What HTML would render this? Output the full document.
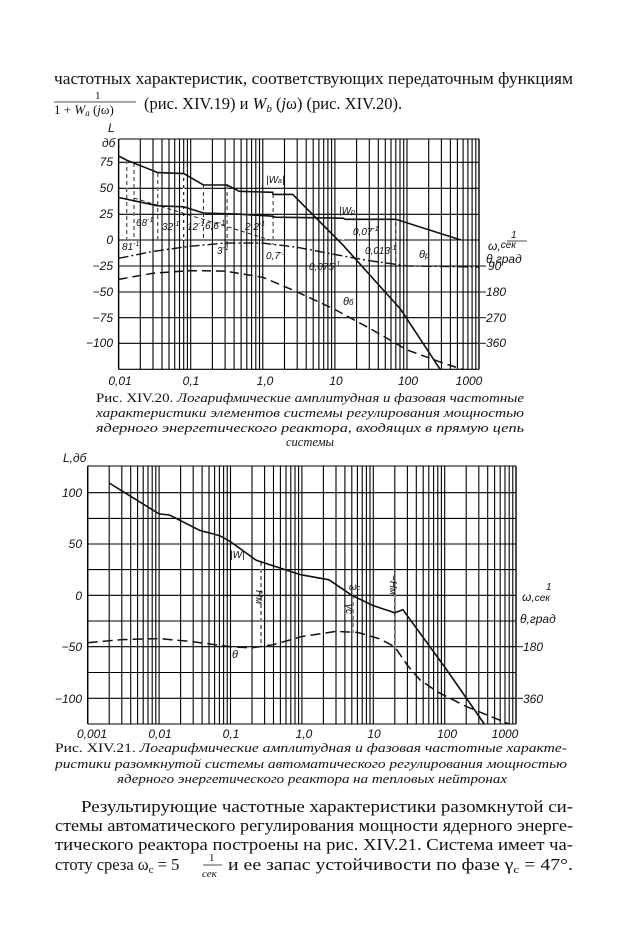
<!DOCTYPE html>
<html><head><meta charset="utf-8"><style>
html,body{margin:0;padding:0;background:#fff;width:620px;height:950px;overflow:hidden}
svg{display:block}
.t{font-family:"Liberation Serif","DejaVu Serif",serif;fill:#111}
.a{font-family:"Liberation Sans","DejaVu Sans",sans-serif;font-style:italic;fill:#111}
</style></head><body>
<svg width="620" height="950" viewBox="0 0 620 950" xmlns="http://www.w3.org/2000/svg">
<defs>
<g id="d1" stroke="#000" stroke-width="1.1">
<line x1="0" y1="139" x2="0" y2="369"/><line x1="21.7" y1="139" x2="21.7" y2="369"/><line x1="34.4" y1="139" x2="34.4" y2="369"/><line x1="43.4" y1="139" x2="43.4" y2="369"/><line x1="50.4" y1="139" x2="50.4" y2="369"/><line x1="56.1" y1="139" x2="56.1" y2="369"/><line x1="60.9" y1="139" x2="60.9" y2="369"/><line x1="65.1" y1="139" x2="65.1" y2="369"/><line x1="68.8" y1="139" x2="68.8" y2="369"/>
</g>
<g id="d2" stroke="#000" stroke-width="1.1">
<line x1="0" y1="466" x2="0" y2="724"/><line x1="21.5" y1="466" x2="21.5" y2="724"/><line x1="34.1" y1="466" x2="34.1" y2="724"/><line x1="43" y1="466" x2="43" y2="724"/><line x1="49.9" y1="466" x2="49.9" y2="724"/><line x1="55.5" y1="466" x2="55.5" y2="724"/><line x1="60.3" y1="466" x2="60.3" y2="724"/><line x1="64.5" y1="466" x2="64.5" y2="724"/><line x1="68.1" y1="466" x2="68.1" y2="724"/>
</g>
</defs>

<text class="t" x="54" y="84" font-size="16.5" textLength="519" lengthAdjust="spacingAndGlyphs">частотных характеристик, соответствующих передаточным функциям</text>
<text class="t" x="95" y="99" font-size="11">1</text>
<line x1="54" y1="102" x2="136" y2="102" stroke="#111" stroke-width="0.8"/>
<text class="t" x="54" y="114" font-size="13">1 + <tspan font-style="italic">W</tspan><tspan font-style="italic" font-size="9" dy="2">a</tspan><tspan dy="-2"> (</tspan><tspan font-style="italic">j</tspan>ω)</text>
<text class="t" x="144" y="109" font-size="16.5">(рис. XIV.19) и <tspan font-style="italic">W</tspan><tspan font-style="italic" font-size="11" dy="3">b</tspan><tspan dy="-3"> (</tspan><tspan font-style="italic">j</tspan>ω) (рис. XIV.20).</text>

<g stroke="#000" stroke-width="1.1">
<line x1="118.6" y1="139" x2="479" y2="139"/>
<line x1="118.6" y1="162.3" x2="479" y2="162.3"/>
<line x1="118.6" y1="188.3" x2="479" y2="188.3"/>
<line x1="118.6" y1="214.3" x2="479" y2="214.3"/>
<line x1="118.6" y1="240" x2="479" y2="240"/>
<line x1="118.6" y1="266" x2="479" y2="266"/>
<line x1="118.6" y1="292" x2="479" y2="292"/>
<line x1="118.6" y1="317.7" x2="479" y2="317.7"/>
<line x1="118.6" y1="343.3" x2="479" y2="343.3"/>
<line x1="118.6" y1="369.3" x2="479" y2="369.3"/>
</g>
<use href="#d1" x="118.6"/><use href="#d1" x="190.7"/><use href="#d1" x="262.8"/><use href="#d1" x="334.9"/><use href="#d1" x="407"/>
<line x1="479" y1="139" x2="479" y2="369.3" stroke="#000" stroke-width="1.4"/>
<line x1="118.6" y1="139" x2="118.6" y2="369.3" stroke="#000" stroke-width="1.4"/>
<g stroke="#fff" stroke-width="1.6" stroke-dasharray="4,3">
<line x1="126.8" y1="160" x2="126.8" y2="240"/><line x1="134" y1="163" x2="134" y2="240"/><line x1="157.8" y1="173" x2="157.8" y2="240"/><line x1="183.7" y1="174" x2="183.7" y2="240"/><line x1="203.4" y1="185" x2="203.4" y2="240"/><line x1="227.1" y1="185" x2="227.1" y2="245"/><line x1="239.2" y1="191" x2="239.2" y2="240"/><line x1="273.1" y1="194" x2="273.1" y2="245"/><line x1="343" y1="218" x2="343" y2="240"/><line x1="395.8" y1="219" x2="395.8" y2="266"/>
</g>
<g stroke="#111" stroke-width="0.9" stroke-dasharray="4,3">
<line x1="126.8" y1="160" x2="126.8" y2="240"/><line x1="134" y1="163" x2="134" y2="240"/><line x1="157.8" y1="173" x2="157.8" y2="240"/><line x1="203.4" y1="185" x2="203.4" y2="240"/><line x1="227.1" y1="185" x2="227.1" y2="245"/><line x1="273.1" y1="194" x2="273.1" y2="245"/><line x1="395.8" y1="219" x2="395.8" y2="266"/>
<line x1="134" y1="198" x2="270" y2="240"/>
</g>
<g fill="none" stroke="#111" stroke-width="1.6">
<polyline points="118.6,156 126.8,160.2 157.8,172.6 183.7,173.6 203.4,185 227.1,185 239.2,191.3 272.7,192.3 273.1,194.4 292.7,194.4 343.1,245.2 400.8,309.5 440.3,369.6"/>
<polyline points="118.6,197.5 157.8,205.8 183.7,206.8 203.4,213 237.8,214.1 271,216.1 275.5,217.2 343.1,218.2 345.4,219.3 395.8,219.3 460.9,240"/>
<polyline stroke-dasharray="10,3,2,3" stroke-width="1.4" points="118.6,258.3 153,251.4 190.7,246.2 225.1,243.1 262.8,243.1 297.2,247.3 334.9,254.5 369.3,260.7 407,265.9 479,267"/>
<polyline stroke-dasharray="9,5" stroke-width="1.5" points="118.6,279.4 153,273.2 190.7,270.6 225.1,271.1 262.8,277.3 297.2,291.9 334.9,309.5 369.3,328.1 407,349.9 441.4,362.4 463.1,369.6"/>
</g>
<g class="a" font-size="12" text-anchor="end">
<text x="113" y="166">75</text><text x="113" y="192">50</text><text x="113" y="218">25</text><text x="113" y="244">0</text>
<text x="113" y="270">−25</text><text x="113" y="296">−50</text><text x="113" y="322">−75</text><text x="113" y="347">−100</text>
</g>
<text class="a" x="108" y="132" font-size="12">L</text>
<text class="a" x="102" y="147" font-size="12">дб</text>
<g class="a" font-size="12" text-anchor="middle">
<text x="120" y="385">0,01</text><text x="191" y="385">0,1</text><text x="265" y="385">1,0</text><text x="336" y="385">10</text><text x="408" y="385">100</text><text x="469" y="385">1000</text>
</g>
<g stroke="#111" stroke-width="1"><line x1="480" y1="266" x2="486" y2="266"/><line x1="480" y1="292" x2="486" y2="292"/><line x1="480" y1="317.7" x2="486" y2="317.7"/><line x1="480" y1="343.3" x2="486" y2="343.3"/></g>
<g class="a" font-size="12"><text x="488" y="270">90</text><text x="486" y="296">180</text><text x="486" y="322">270</text><text x="486" y="347">360</text></g>
<text class="a" x="488" y="250" font-size="12">ω,<tspan font-size="10" dy="-2">сек</tspan></text>
<text class="a" x="511" y="238" font-size="10">1</text>
<line x1="507" y1="241" x2="527" y2="241" stroke="#111" stroke-width="0.8"/>
<text class="a" x="486" y="263" font-size="12">θ,град</text>
<g class="a" font-size="10">
<text x="266" y="183">|W<tspan font-size="7">a</tspan>|</text>
<text x="339" y="214">|W<tspan font-size="7">p</tspan>|</text>
<text x="419" y="258" font-size="11">θ<tspan font-size="8">p</tspan></text>
<text x="343" y="305" font-size="11">θ<tspan font-size="8">б</tspan></text>
<text x="122" y="250">81<tspan font-size="7" dy="-4">-1</tspan></text>
<text x="136" y="226">68<tspan font-size="7" dy="-4">-1</tspan></text>
<text x="162" y="230">32<tspan font-size="7" dy="-4">-1</tspan></text>
<text x="187" y="230">12<tspan font-size="7" dy="-4">-1</tspan></text>
<text x="205" y="229">6,6<tspan font-size="7" dy="-4">-1</tspan></text>
<text x="245" y="230">2,2<tspan font-size="7" dy="-4">-1</tspan></text>
<text x="217" y="254">3<tspan font-size="7" dy="-4">-1</tspan></text>
<text x="266" y="259">0,7<tspan font-size="7" dy="-4">-1</tspan></text>
<text x="353" y="235">0,07<tspan font-size="7" dy="-4">-1</tspan></text>
<text x="365" y="254">0,013<tspan font-size="7" dy="-4">-1</tspan></text>
<text x="309" y="270">0,075<tspan font-size="7" dy="-4">-1</tspan></text>
</g>
<g class="t" font-size="12.5">
<text x="96" y="402" textLength="428" lengthAdjust="spacingAndGlyphs">Рис. XIV.20. <tspan font-style="italic">Логарифмические амплитудная и фазовая частотные</tspan></text>
<text x="96" y="417" font-style="italic" textLength="428" lengthAdjust="spacingAndGlyphs">характеристики элементов системы регулирования мощностью</text>
<text x="96" y="432" font-style="italic" textLength="428" lengthAdjust="spacingAndGlyphs">ядерного энергетического реактора, входящих в прямую цепь</text>
<text x="310" y="446" font-style="italic" text-anchor="middle">системы</text>
</g>

<g stroke="#000" stroke-width="1.1">
<line x1="87.7" y1="466" x2="516" y2="466"/>
<line x1="87.7" y1="492.7" x2="516" y2="492.7"/>
<line x1="87.7" y1="518.4" x2="516" y2="518.4"/>
<line x1="87.7" y1="544" x2="516" y2="544"/>
<line x1="87.7" y1="569.6" x2="516" y2="569.6"/>
<line x1="87.7" y1="595.3" x2="516" y2="595.3"/>
<line x1="87.7" y1="621" x2="516" y2="621"/>
<line x1="87.7" y1="646.7" x2="516" y2="646.7"/>
<line x1="87.7" y1="672.5" x2="516" y2="672.5"/>
<line x1="87.7" y1="698.3" x2="516" y2="698.3"/>
<line x1="87.7" y1="724" x2="516" y2="724"/>
</g>
<use href="#d2" x="87.7"/><use href="#d2" x="159.1"/><use href="#d2" x="230.5"/><use href="#d2" x="301.9"/><use href="#d2" x="373.3"/><use href="#d2" x="444.7"/>
<line x1="516" y1="466" x2="516" y2="724" stroke="#000" stroke-width="1.4"/>
<line x1="87.7" y1="466" x2="87.7" y2="724" stroke="#000" stroke-width="1.4"/>
<g stroke="#fff" stroke-width="2" stroke-dasharray="4,3">
<line x1="261" y1="562" x2="261" y2="647"/><line x1="353" y1="595" x2="353" y2="633"/><line x1="395" y1="595" x2="395" y2="647"/>
</g>
<g stroke="#111" stroke-width="1" stroke-dasharray="4,3">
<line x1="261" y1="562" x2="261" y2="647"/><line x1="353" y1="595" x2="353" y2="633"/><line x1="395" y1="595" x2="395" y2="647"/>
</g>
<g fill="none" stroke="#111" stroke-width="1.6">
<polyline points="109.2,483 159.1,513.9 169.5,515 199.7,530.4 219.4,535.6 230.5,541.7 256.3,560.3 300.6,574.7 329,579.8 351.8,595.3 373.3,605.6 394.8,612.8 402.9,609.7 446.5,669.5 484.3,724"/>
<polyline stroke-dasharray="10,5" stroke-width="1.5" points="87.7,642.7 121.8,639.6 159.1,638.6 193.2,641.7 230.5,646.8 252,647.8 273.5,644.7 301.9,636.5 336,631.4 357.5,632.4 379,638.6 394.8,646.8 407.4,665.3 419.9,679.8 437.8,692.1 466.2,706.5 509.2,724"/>
</g>
<g class="a" font-size="12" text-anchor="end">
<text x="82" y="497">100</text><text x="82" y="548">50</text><text x="82" y="600">0</text><text x="82" y="651">−50</text><text x="82" y="703">−100</text>
</g>
<text class="a" x="63" y="462" font-size="12">L,дб</text>
<g class="a" font-size="12" text-anchor="middle">
<text x="92" y="738">0,001</text><text x="160" y="738">0,01</text><text x="231" y="738">0,1</text><text x="304" y="738">1,0</text><text x="374" y="738">10</text><text x="447" y="738">100</text><text x="505" y="738">1000</text>
</g>
<g stroke="#111" stroke-width="1"><line x1="517" y1="646.7" x2="523" y2="646.7"/><line x1="517" y1="698.3" x2="523" y2="698.3"/></g>
<g class="a" font-size="12"><text x="523" y="651">180</text><text x="523" y="703">360</text></g>
<text class="a" x="522" y="601" font-size="12">ω,<tspan font-size="10">сек</tspan></text>
<text class="a" x="546" y="590" font-size="10">1</text>
<text class="a" x="520" y="623" font-size="12">θ,град</text>
<g class="a" font-size="10">
<text x="230" y="558">|W|</text>
<text x="232" y="658" font-size="11">θ</text>
<text x="349" y="590">ω<tspan font-size="7">c</tspan></text>
<text transform="translate(256,590) rotate(90)">Hм</text>
<text transform="translate(390,575) rotate(90)">−Hм</text>
<text transform="translate(346,604) rotate(90)">γc</text>
</g>
<g class="t" font-size="12.5">
<text x="55" y="752" textLength="512" lengthAdjust="spacingAndGlyphs">Рис. XIV.21. <tspan font-style="italic">Логарифмические амплитудная и фазовая частотные характе-</tspan></text>
<text x="55" y="768" font-style="italic" textLength="512" lengthAdjust="spacingAndGlyphs">ристики разомкнутой системы автоматического регулирования мощностью</text>
<text x="117" y="783" font-style="italic" textLength="390" lengthAdjust="spacingAndGlyphs">ядерного энергетического реактора на тепловых нейтронах</text>
</g>

<g class="t" font-size="16.5">
<text x="81" y="812" textLength="492" lengthAdjust="spacingAndGlyphs">Результирующие частотные характеристики разомкнутой си-</text>
<text x="55" y="831" textLength="518" lengthAdjust="spacingAndGlyphs">стемы автоматического регулирования мощности ядерного энерге-</text>
<text x="55" y="850" textLength="518" lengthAdjust="spacingAndGlyphs">тического реактора построены на рис. XIV.21. Система имеет ча-</text>
<text x="55" y="870">стоту среза ω<tspan font-size="11" dy="3">c</tspan><tspan dy="-3"> = 5</tspan></text>
<text x="209" y="861" font-size="11">1</text>
<line x1="203" y1="865" x2="222" y2="865" stroke="#111" stroke-width="0.8"/>
<text x="202" y="877" font-size="11" font-style="italic">сек</text>
<text x="228" y="870" textLength="345" lengthAdjust="spacingAndGlyphs">и ее запас устойчивости по фазе γ<tspan font-size="11" dy="3">c</tspan><tspan dy="-3"> = 47°.</tspan></text>
</g>
</svg>
</body></html>
